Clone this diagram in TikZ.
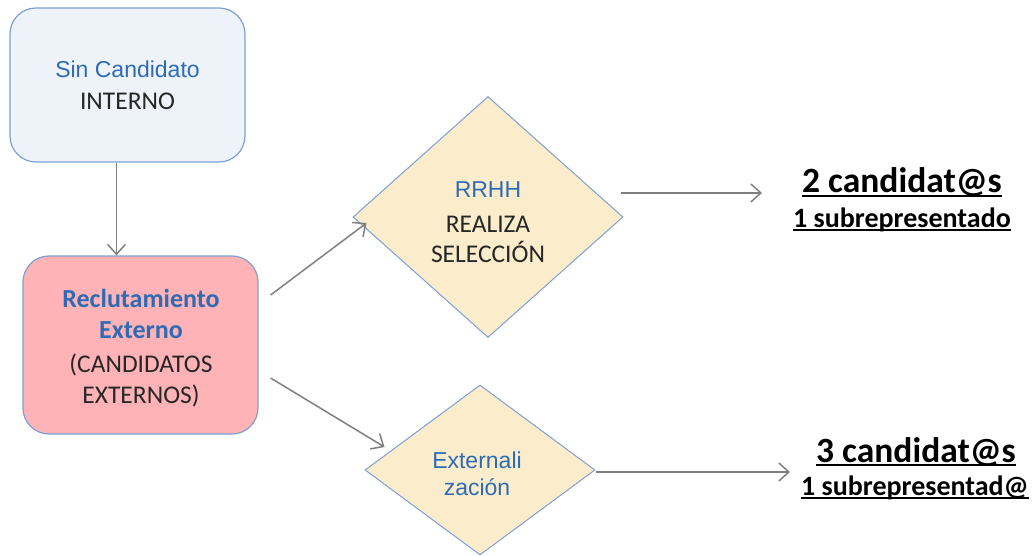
\documentclass[tikz,border=0pt]{standalone}
\usepackage{fontspec}
\setmainfont{Liberation Sans}
\newfontfamily\calfont{Carlito}
\newfontfamily\arifont{Liberation Sans}
\usetikzlibrary{shapes.geometric,arrows.meta}
\definecolor{tblue}{HTML}{2E6BB4}
\definecolor{bordblue}{HTML}{7E9FD3}
\definecolor{boxone}{HTML}{EEF3FA}
\definecolor{boxtwo}{HTML}{FFB3B6}
\definecolor{diafill}{HTML}{FBEDCB}
\definecolor{arrgray}{HTML}{7F7F7F}
\newcommand{\myuline}[1]{\setbox0=\hbox{#1}\leavevmode\rlap{\raisebox{-4pt}{\rule{\wd0}{1.6pt}}}\box0}
\tikzset{
  rbox/.style={draw=bordblue, line width=1.2pt, rounded corners=26pt, inner sep=0pt},
  dia/.style={draw=bordblue, line width=1pt, fill=diafill, shape=diamond, inner sep=0pt},
  arr/.style={draw=arrgray, line width=1.5pt, -{Straight Barb[length=10pt,width=18pt,line width=1.5pt]}},
  bluetxt/.style={anchor=base, text=tblue, font=\arifont\fontsize{23}{27}\selectfont},
  bluebold/.style={anchor=base, text=tblue, font=\calfont\bfseries\fontsize{26}{30}\selectfont},
  blktxt/.style={anchor=base, text=black!85, font=\calfont\fontsize{25.5}{30}\selectfont},
  bigres/.style={anchor=base, text=black, font=\calfont\bfseries\fontsize{35.5}{40}\selectfont},
  smallres/.style={anchor=base, text=black, font=\calfont\bfseries\fontsize{28}{32}\selectfont}
}
\begin{document}
\begin{tikzpicture}[x=1pt,y=-1pt]
\useasboundingbox (0,0) rectangle (1033,556);
% shapes
\node[rbox, fill=boxone, minimum width=235pt, minimum height=154pt] (box1) at (127.5,85) {};
\node[rbox, fill=boxtwo, minimum width=235pt, minimum height=178pt] (box2) at (140.5,345) {};
\node[dia, minimum width=270pt, minimum height=241pt] (d1) at (488,217) {};
\node[dia, minimum width=230pt, minimum height=170pt] (d2) at (480,470) {};
% texts
\node[bluetxt] (t1a) at (127.5,78) {Sin Candidato};
\node[blktxt] (t1b) at (127.5,110) {INTERNO};
\node[bluebold] (t2a) at (141,307) {Reclutamiento};
\node[bluebold] (t2b) at (141,338) {Externo};
\node[blktxt] (t2c) at (141,372) {(CANDIDATOS};
\node[blktxt] (t2d) at (141,403) {EXTERNOS)};
\node[bluetxt] (t3a) at (488,197) {RRHH};
\node[blktxt] (t3b) at (488,233) {REALIZA};
\node[blktxt] (t3c) at (488,262) {SELECCIÓN};
\node[bluetxt] (t4a) at (477,468) {Externali};
\node[bluetxt] (t4b) at (477,495) {zación};
\node[bigres] (r1a) at (902,193) {\myuline{2 candidat@s}};
\node[smallres] (r1b) at (902,227) {\myuline{1 subrepresentado}};
\node[bigres] (r2a) at (916,462) {\myuline{3 candidat@s}};
\node[smallres] (r2b) at (915,495) {\myuline{1 subrepresentad@}};
% free ends
\coordinate (e1) at (762,193);
\coordinate (e2) at (790,472);
% connectors
\draw[arr] ([xshift=-11pt]box1.south) -- ([xshift=-24pt]box2.north);
\draw[arr] ([shift={(12pt,50pt)}]box2.east) -- ([shift={(14pt,-6pt)}]d1.west);
\draw[arr] ([shift={(12pt,-33pt)}]box2.east) -- ([shift={(20pt,23pt)}]d2.west);
\draw[arr] ([shift={(-3pt,24pt)}]d1.east) -- (e1);
\draw[arr] ([shift={(0pt,-2pt)}]d2.east) -- (e2);
\end{tikzpicture}
\end{document}
